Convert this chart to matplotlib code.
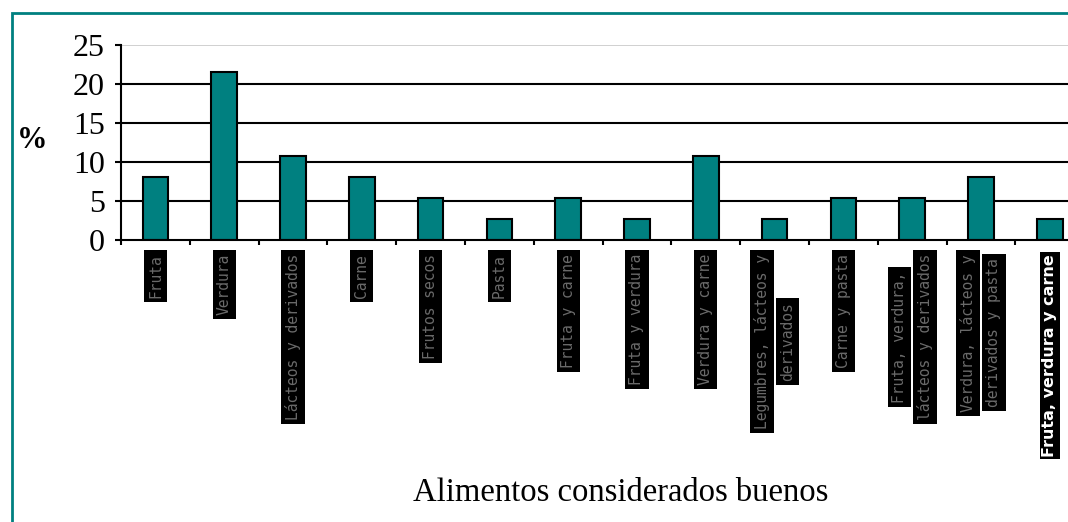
import matplotlib
matplotlib.use("Agg")
import matplotlib.pyplot as plt
from matplotlib.patches import Rectangle
from matplotlib.transforms import blended_transform_factory
import numpy as np

categories = [
    "Fruta",
    "Verdura",
    "Lácteos y derivados",
    "Carne",
    "Frutos secos",
    "Pasta",
    "Fruta y carne",
    "Fruta y verdura",
    "Verdura y carne",
    "Legumbres, lácteos y\nderivados",
    "Carne y pasta",
    "Fruta, verdura,\nlácteos y derivados",
    "Verdura, lácteos y\nderivados y pasta",
    "Fruta, verdura y carne",
]
values = [8.1, 21.6, 10.8, 8.1, 5.4, 2.7, 5.4, 2.7, 10.8, 2.7, 5.4, 5.4, 8.1, 2.7]
yticks = [0, 5, 10, 15, 20, 25]

TEAL = "#008080"
SERIF = ["Liberation Serif", "DejaVu Serif"]

W, H = 1068, 522
fig = plt.figure(figsize=(W / 100, H / 100), dpi=100)
fig.patch.set_facecolor("white")

# outer teal frame
fig.add_artist(Rectangle((12 / W, -0.05), 1.2, 1 - 13 / H + 0.05,
                         transform=fig.transFigure, fill=False,
                         edgecolor=TEAL, lw=2.0))

n = len(categories)
ax_left, ax_bottom = 121 / W, 1 - 240 / H
ax_w = n * 68.8 / W
ax_h = (240 - 45) / H
ax = fig.add_axes([ax_left, ax_bottom, ax_w, ax_h])
ax.set_facecolor("none")

x = np.arange(n)
ax.set_xlim(-0.5, n - 0.5)
ax.set_ylim(0, 25)

for y in yticks[1:-1]:
    ax.axhline(y, color="black", lw=1.5, zorder=1)
ax.axhline(25, color="#c8c8c8", lw=1.2, zorder=1)

ax.bar(x, values, width=0.37, color=TEAL, edgecolor="black", lw=1.5, zorder=3)

for s in ["top", "right"]:
    ax.spines[s].set_visible(False)
for s in ["left", "bottom"]:
    ax.spines[s].set_linewidth(1.5)
    ax.spines[s].set_zorder(4)

ax.set_yticks(yticks)
ax.set_yticklabels([str(v) for v in yticks], fontfamily=SERIF, fontsize=23)
ax.tick_params(axis="y", direction="out", length=4.5, width=1.5, pad=7)
ax.set_xticks(np.arange(n + 1) - 0.5)
ax.set_xticklabels([])
ax.tick_params(axis="x", direction="out", length=3.5, width=1.5)

fig.text(32 / W, 1 - 140 / H, "%", fontfamily=SERIF, fontsize=22,
         fontweight="bold", ha="center", va="center")
fig.text(621 / W, 1 - 493 / H, "Alimentos considerados buenos",
         fontfamily=SERIF, fontsize=23.5, ha="center", va="center")

# rotated category labels on black boxes
trans = blended_transform_factory(ax.transData, ax.transAxes)
fig.canvas.draw()
renderer = fig.canvas.get_renderer()
top_axes = -10 / (240 - 45)
px_to_data = 1 / 68.8
box_w = 26  # px between line centres

for i, lab in enumerate(categories):
    lines = lab.split("\n")
    last = i == n - 1
    kw = dict(rotation=90, rotation_mode="anchor", transform=trans,
              zorder=5, clip_on=False)
    if last:
        style = dict(fontfamily="DejaVu Sans", fontsize=11.5, color="white",
                     fontweight="bold")
        bbox = dict(boxstyle="square,pad=0.15", fc="black", ec="none")
    else:
        style = dict(fontfamily="DejaVu Sans Mono", fontsize=10.5,
                     color="#6a6a6a")
        bbox = dict(boxstyle="square,pad=0.28", fc="black", ec="none")
    offsets = (np.arange(len(lines)) - (len(lines) - 1) / 2) * box_w * px_to_data
    lens = []
    for ln in lines:
        t = ax.text(0, 0, ln, **style, rotation=90)
        lens.append(t.get_window_extent(renderer).height)
        t.remove()
    Lmax = max(lens)
    centre = top_axes - (Lmax / 2 + 4) / (240 - 45)
    for ln, dx in zip(lines, offsets):
        ax.text(x[i] + dx, centre, ln, ha="center", va="center",
                bbox=bbox, **style, **kw)

fig.savefig("out.png", dpi=100)
